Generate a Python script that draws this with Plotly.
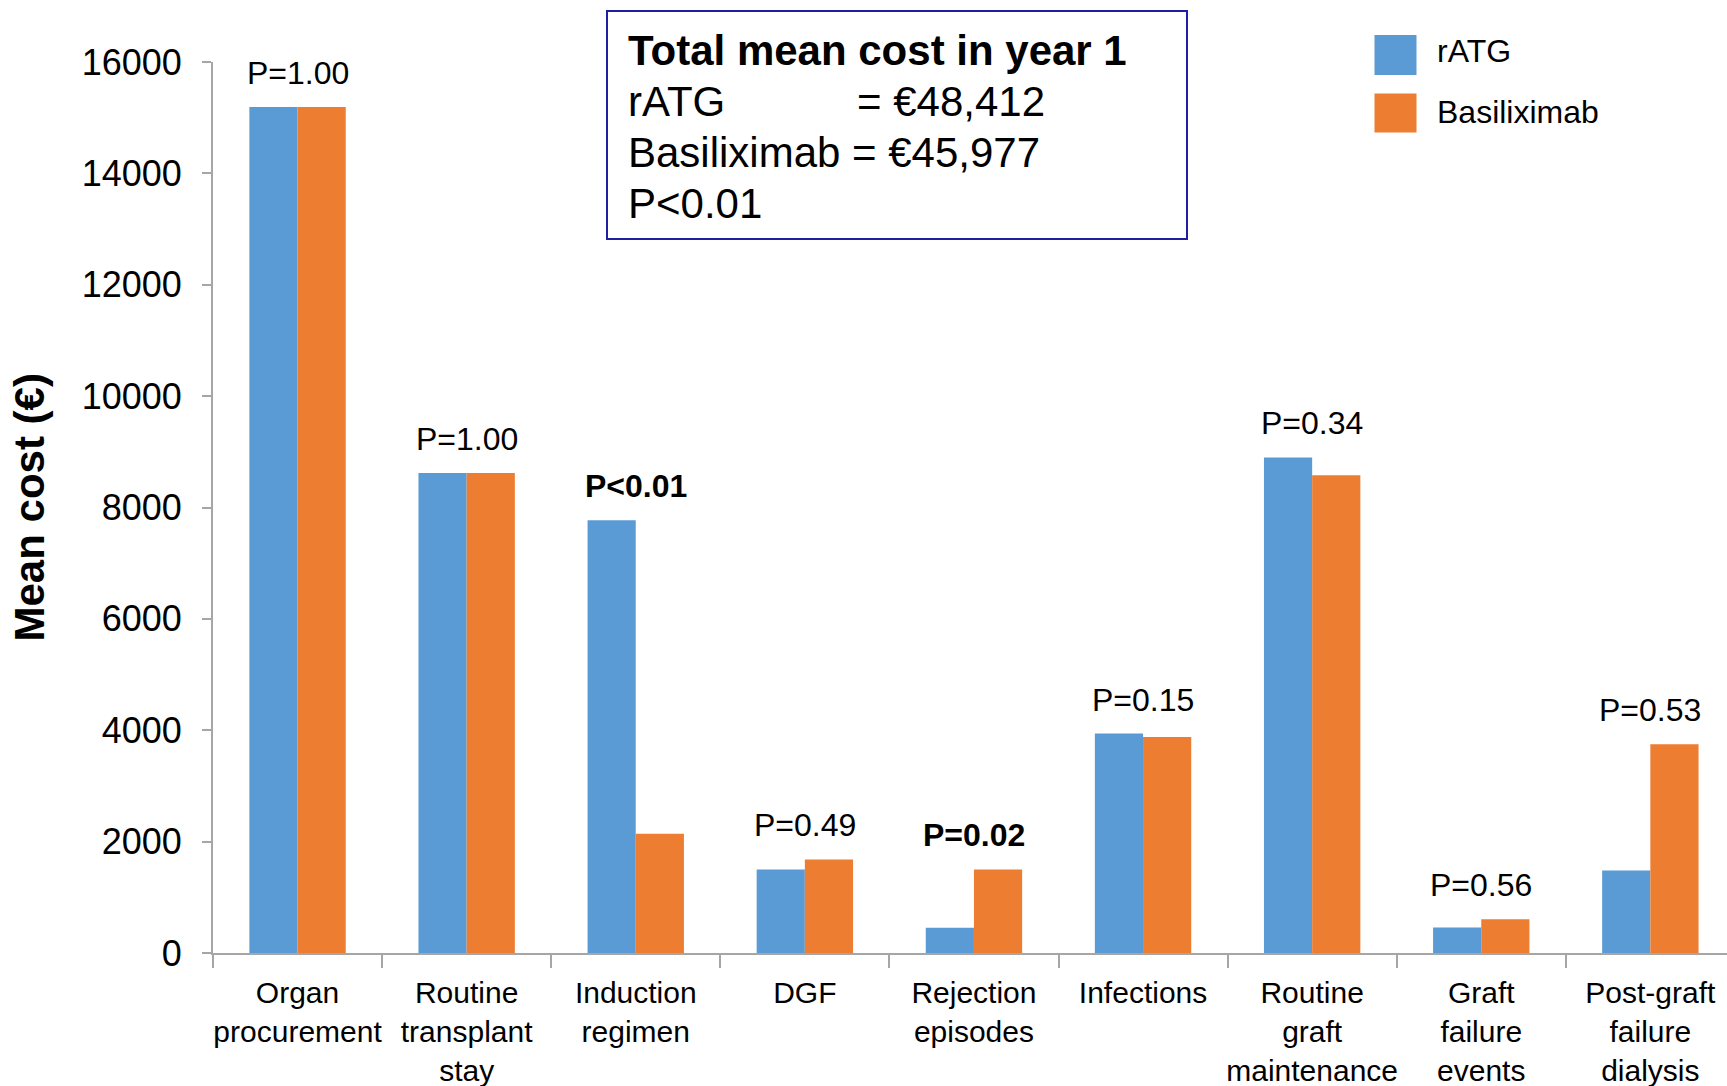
import plotly.graph_objects as go

# ---------------- data ----------------
categories = [
    "Organ<br>procurement",
    "Routine<br>transplant<br>stay",
    "Induction<br>regimen",
    "DGF",
    "Rejection<br>episodes",
    "Infections",
    "Routine<br>graft<br>maintenance",
    "Graft<br>failure<br>events",
    "Post-graft<br>failure<br>dialysis",
]
ratg = [15190, 8620, 7770, 1500, 455, 3940, 8900, 460, 1480]
basiliximab = [15190, 8620, 2140, 1680, 1500, 3880, 8580, 605, 3748]
p_labels = ["P=1.00", "P=1.00", "<b>P&lt;0.01</b>", "P=0.49", "<b>P=0.02</b>",
            "P=0.15", "P=0.34", "P=0.56", "P=0.53"]
y_ticks = [0, 2000, 4000, 6000, 8000, 10000, 12000, 14000, 16000]
series_names = ["rATG", "Basiliximab"]
box_lines = ["Total mean cost in year 1", "rATG", "= €48,412",
             "Basiliximab = €45,977", "P&lt;0.01"]

# ---------------- layout geometry (pixels) ----------------
W, H = 1727, 1086
L, R, T, B = 213, 0, 62, 133
PW, PH = W - L - R, H - T - B
CAT_W = 169.1

def px(x):
    return (x - L) / PW

def py(y):
    return (H - B - y) / PH

BLUE = "#5B9BD5"
ORANGE = "#ED7D31"
FONT = "Liberation Sans, Arial, sans-serif"
AXIS_GREY = "#A6A6A6"

fig = go.Figure()
fig.add_trace(go.Bar(x=categories, y=ratg, name=series_names[0],
                     marker=dict(color=BLUE, line=dict(width=0))))
fig.add_trace(go.Bar(x=categories, y=basiliximab, name=series_names[1],
                     marker=dict(color=ORANGE, line=dict(width=0))))

annotations = []
for c, a, b, lab in zip(categories, ratg, basiliximab, p_labels):
    annotations.append(dict(x=c, y=max(a, b), xref="x", yref="y", text=lab,
                            showarrow=False, yanchor="middle", yshift=34,
                            font=dict(family=FONT, size=32, color="black")))

# y-axis title
annotations.append(dict(x=px(29), y=0.5, xref="paper", yref="paper",
                        text="<b>Mean cost (€)</b>", textangle=-90,
                        showarrow=False, xanchor="center", yanchor="middle",
                        font=dict(family=FONT, size=42, color="black")))

# summary box text
box_pos = [(626, 50.7, True), (626, 101.3, False), (855, 101.3, False),
           (626, 152.0, False), (626, 203.8, False)]
for txt, (bx, by, bold) in zip(box_lines, box_pos):
    annotations.append(dict(x=px(bx), y=py(by), xref="paper", yref="paper",
                            text=f"<b>{txt}</b>" if bold else txt,
                            showarrow=False, xanchor="left", yanchor="middle",
                            font=dict(family=FONT, size=42, color="black")))

# custom legend text
leg_y = [50.7, 112.3]
for name, ly in zip(series_names, leg_y):
    annotations.append(dict(x=px(1435), y=py(ly), xref="paper", yref="paper",
                            text=name, showarrow=False, xanchor="left",
                            yanchor="middle",
                            font=dict(family=FONT, size=32, color="black")))

shapes = [
    dict(type="rect", xref="paper", yref="paper",
         x0=px(607), x1=px(1187), y0=py(239), y1=py(11),
         line=dict(color="#1F1F9F", width=2), fillcolor="rgba(0,0,0,0)"),
    dict(type="rect", xref="paper", yref="paper",
         x0=px(1374.5), x1=px(1416.5), y0=py(75), y1=py(35),
         line=dict(width=0), fillcolor=BLUE),
    dict(type="rect", xref="paper", yref="paper",
         x0=px(1374.5), x1=px(1416.5), y0=py(132.5), y1=py(93.5),
         line=dict(width=0), fillcolor=ORANGE),
]

fig.update_layout(
    width=W, height=H,
    margin=dict(l=L, r=R, t=T, b=B, pad=0, autoexpand=False),
    paper_bgcolor="white", plot_bgcolor="white",
    barmode="group", bargap=0.43, bargroupgap=0,
    showlegend=False,
    annotations=annotations,
    shapes=shapes,
    font=dict(family=FONT, color="black"),
)
fig.update_xaxes(
    type="category",
    range=[-0.5, -0.5 + PW / CAT_W],
    automargin=False,
    tickangle=0,
    showline=True, linecolor=AXIS_GREY, linewidth=2,
    ticks="outside", tickson="boundaries", ticklen=13,
    tickcolor=AXIS_GREY, tickwidth=1.5,
    showgrid=False, zeroline=False,
    ticklabelstandoff=12,
    tickfont=dict(family=FONT, size=30, color="black"),
)
fig.update_yaxes(
    range=[0, 16000],
    automargin=False,
    tickvals=y_ticks, ticktext=[str(v) for v in y_ticks],
    showline=True, linecolor=AXIS_GREY, linewidth=2,
    ticks="outside", ticklen=9, tickcolor=AXIS_GREY, tickwidth=1.5,
    showgrid=False, zeroline=False,
    ticklabelstandoff=13,
    tickfont=dict(family=FONT, size=36, color="black"),
)

fig.write_html("out.html")
